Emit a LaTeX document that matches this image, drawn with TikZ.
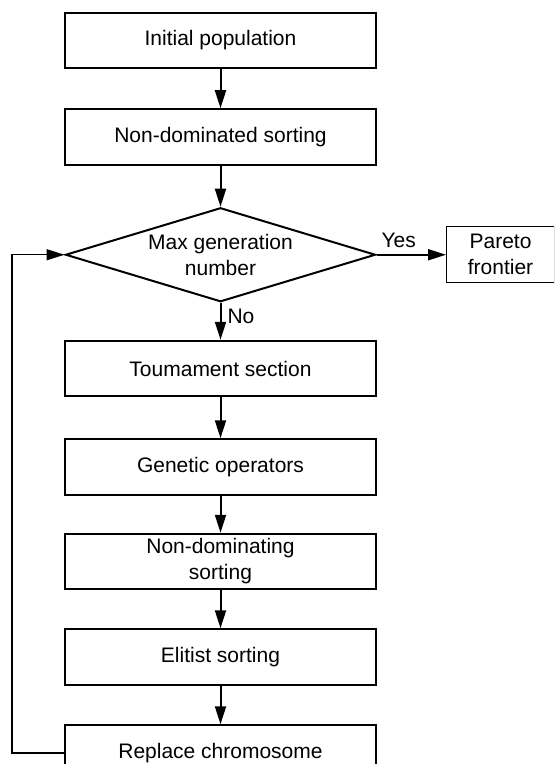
\documentclass[tikz,border=0pt]{standalone}
\usepackage{fontspec}
\setmainfont{Liberation Sans}
\usetikzlibrary{arrows.meta, positioning, shapes.geometric}

\tikzset{
  stage/.style={draw, line width=1pt, minimum width=155.5pt, minimum height=27.75pt,
    inner sep=0pt, align=center, font=\fontsize{10.5}{13}\selectfont},
  decision/.style={draw, diamond, aspect=3.3, line width=1pt, minimum width=155pt,
    minimum height=47pt, inner sep=0pt, align=center, font=\fontsize{10.5}{13}\selectfont},
  result/.style={draw, line width=0.5pt, minimum width=54pt, minimum height=28pt,
    inner sep=0pt, align=center, font=\fontsize{10.5}{13}\selectfont},
  arr/.style={line width=1pt, -{Triangle[length=9pt,width=5.5pt]}},
  lbl/.style={font=\fontsize{10.5}{13}\selectfont, inner sep=3pt}
}

\begin{document}
\begin{tikzpicture}[]
\useasboundingbox (0,0) rectangle (277pt,-382pt);
\clip (0,0) rectangle (277pt,-382pt);

\node[stage] (init) at (110.25pt,-20.25pt) {Initial population};
\node[stage] (sort) [below = 19.5pt of init] {Non-dominated sorting};
\node[decision] (maxgen) [below = 20.5pt of sort] {Max generation\\number};
\node[result] (pareto) [right = 34.75pt of maxgen] {Pareto\\frontier};

\node[stage] (tour) [below = 18.5pt of maxgen] {Toumament section};
\node[stage] (gen) [below = 20.5pt of tour] {Genetic operators};
\node[stage] (ndom) [below = 18.5pt of gen] {Non-dominating\\sorting};
\node[stage] (elit) [below = 19pt of ndom] {Elitist sorting};
\node[stage] (repl) [below = 19.25pt of elit] {Replace chromosome};

\draw[arr] (init) -- (sort);
\draw[arr] (sort) -- (maxgen);
\draw[arr] (maxgen) -- node[lbl, above, pos=0.32] {Yes} (pareto);
\draw[arr] (maxgen) -- node[lbl, right, pos=0.36] {No} (tour);
\draw[arr] (tour) -- (gen);
\draw[arr] (gen) -- (ndom);
\draw[arr] (ndom) -- (elit);
\draw[arr] (elit) -- (repl);

% back to the check
\draw[arr, line width=0.75pt] (repl.west) -- ++(-26pt,0) |- (maxgen.west);
\end{tikzpicture}
\end{document}
